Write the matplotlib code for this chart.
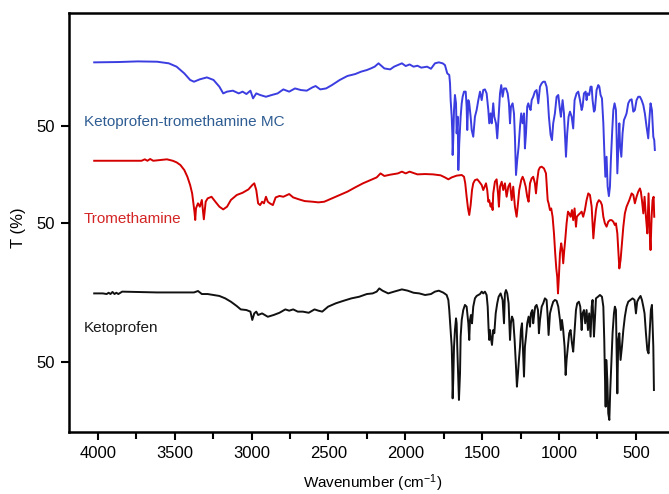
"""Stacked FTIR transmittance spectra: ketoprofen, tromethamine and their MC."""

import matplotlib

matplotlib.use("Agg")
import matplotlib.pyplot as plt
from matplotlib.ticker import MultipleLocator

plt.rcParams["font.family"] = ["Liberation Sans", "DejaVu Sans"]
plt.rcParams["mathtext.fontset"] = "custom"
plt.rcParams["mathtext.rm"] = "Liberation Sans"
plt.rcParams["mathtext.default"] = "regular"

# ---- data (wavenumber in cm-1, T in %) ----
MC_WN = [
    4023, 3866, 3740, 3614, 3538, 3487, 3437, 3399, 3374, 3336, 3290, 3247, 3209, 3184, 3159,
    3121, 3083, 3058, 3033, 3007, 2990, 2969, 2944, 2906, 2868, 2830, 2793, 2755, 2717, 2679,
    2641, 2603, 2583, 2553, 2515, 2477, 2426, 2376, 2325, 2287, 2250, 2224, 2199, 2174, 2161,
    2136, 2098, 2073, 2048, 2022, 1997, 1972, 1946, 1921, 1896, 1858, 1833, 1807, 1782, 1757,
    1742, 1727, 1714, 1709, 1705, 1698, 1694, 1692, 1688, 1683, 1677, 1670, 1666, 1659, 1655,
    1649, 1640, 1633, 1627, 1618, 1607, 1601, 1597, 1590, 1584, 1575, 1568, 1558, 1547, 1536,
    1525, 1514, 1503, 1493, 1482, 1471, 1460, 1454, 1445, 1438, 1428, 1421, 1410, 1402, 1393,
    1384, 1376, 1367, 1358, 1345, 1334, 1326, 1319, 1313, 1302, 1293, 1287, 1280, 1272, 1263,
    1254, 1246, 1237, 1228, 1222, 1215, 1207, 1200, 1194, 1185, 1178, 1168, 1157, 1146, 1135,
    1124, 1113, 1103, 1092, 1081, 1074, 1066, 1055, 1046, 1038, 1027, 1016, 1005, 994, 988,
    977, 968, 962, 955, 947, 938, 929, 918, 908, 899, 886, 875, 864, 853, 847,
    838, 827, 821, 814, 804, 795, 788, 782, 773, 767, 756, 745, 738, 730, 721,
    712, 706, 699, 691, 684, 676, 669, 663, 654, 647, 639, 630, 626, 621, 615,
    608, 604, 595, 587, 578, 569, 561, 550, 539, 528, 517, 507, 496, 485, 474,
    463, 452, 442, 431, 420, 413, 405, 396, 387, 381, 377,
]
MC_T = [
    89.8, 90.0, 90.4, 90.2, 89.2, 87.1, 82.9, 78.8, 77.7, 79.2, 80.4, 78.8, 74.6, 70.4, 71.5,
    72.1, 70.4, 71.5, 70.0, 72.1, 67.3, 70.4, 69.4, 68.3, 69.4, 70.4, 72.9, 71.5, 73.5, 72.5,
    72.1, 74.2, 75.0, 72.9, 73.5, 75.6, 78.8, 81.3, 82.5, 84.0, 85.0, 86.0, 87.1, 89.2, 88.1,
    86.0, 85.4, 87.1, 88.1, 89.2, 87.5, 88.5, 87.1, 87.7, 86.5, 87.1, 85.8, 89.2, 89.8, 89.2,
    88.1, 82.9, 81.9, 76.7, 66.2, 55.8, 45.4, 31.9, 41.2, 60.0, 69.4, 64.2, 45.4, 55.8, 22.5,
    39.2, 55.8, 64.2, 68.3, 71.5, 71.5, 62.1, 47.5, 66.2, 64.2, 55.8, 47.5, 43.3, 55.8, 60.0,
    66.2, 71.5, 66.2, 72.5, 72.9, 70.4, 60.0, 51.7, 57.9, 51.7, 64.2, 55.8, 51.7, 42.3, 55.8,
    70.4, 75.6, 68.3, 73.5, 73.5, 70.4, 64.2, 51.7, 62.1, 64.2, 57.9, 43.3, 19.4, 28.7, 37.1,
    49.6, 57.9, 51.7, 57.9, 36.0, 45.4, 62.1, 64.2, 62.1, 60.0, 66.2, 68.3, 71.5, 72.5, 64.2,
    74.6, 76.7, 77.7, 77.7, 74.6, 68.3, 55.8, 44.4, 41.2, 51.7, 57.9, 68.3, 69.4, 60.0, 55.8,
    66.2, 57.9, 45.4, 30.8, 45.4, 55.8, 59.0, 55.8, 48.5, 66.2, 70.4, 71.5, 66.2, 60.0, 62.1,
    70.4, 71.5, 66.2, 70.4, 69.4, 74.6, 74.6, 66.2, 59.0, 60.0, 72.5, 75.6, 74.6, 69.4, 67.3,
    51.7, 35.0, 18.3, 30.8, 12.1, 6.2, 12.1, 28.7, 47.5, 60.0, 64.2, 60.0, 45.4, 20.4, 35.0,
    51.7, 39.2, 30.8, 45.4, 53.7, 55.8, 57.9, 64.2, 66.2, 66.7, 59.0, 60.0, 66.2, 68.3, 68.3,
    66.2, 63.1, 57.9, 49.6, 42.3, 53.7, 64.2, 60.0, 43.3, 41.2, 35.0,
]

TROM_WN = [
    4023, 3866, 3715, 3694, 3677, 3659, 3639, 3588, 3550, 3512, 3487, 3462, 3437, 3417, 3399,
    3386, 3379, 3371, 3366, 3361, 3348, 3336, 3323, 3310, 3298, 3285, 3260, 3235, 3209, 3184,
    3159, 3134, 3096, 3058, 3020, 2995, 2982, 2969, 2957, 2944, 2931, 2919, 2906, 2894, 2881,
    2861, 2843, 2818, 2793, 2755, 2729, 2692, 2654, 2603, 2565, 2527, 2477, 2426, 2376, 2325,
    2275, 2224, 2186, 2161, 2136, 2098, 2048, 2022, 1997, 1972, 1921, 1871, 1820, 1770,
    1742, 1720, 1698, 1666, 1633, 1618, 1610, 1601, 1592, 1584, 1575, 1566, 1558, 1547, 1532,
    1519, 1503, 1493, 1484, 1475, 1467, 1460, 1454, 1445, 1438, 1432, 1428, 1417, 1406, 1397,
    1391, 1384, 1373, 1363, 1352, 1341, 1330, 1319, 1308, 1298, 1287, 1276, 1267, 1259, 1246,
    1237, 1228, 1217, 1207, 1198, 1189, 1178, 1168, 1157, 1150, 1142, 1133, 1124, 1113, 1098,
    1085, 1081, 1074, 1068, 1059, 1051, 1042, 1033, 1025, 1018, 1012, 1007, 1001, 994, 986,
    979, 973, 966, 960, 951, 942, 934, 925, 916, 908, 899, 890, 884, 875, 864,
    853, 843, 832, 821, 810, 799, 788, 777, 769, 760, 752, 741, 730, 721, 712,
    702, 691, 680, 669, 658, 647, 637, 630, 621, 615, 608, 600, 591, 582, 572,
    561, 543, 528, 517, 507, 496, 485, 474, 468, 461, 452, 444, 435, 426, 418,
    411, 405, 398, 392, 385, 381,
]
TROM_T = [
    89.1, 89.1, 89.1, 90.0, 89.1, 90.2, 89.1, 89.6, 90.0, 89.1, 88.1, 86.4, 83.3, 79.1, 73.9,
    68.7, 63.5, 57.3, 52.1, 59.4, 62.5, 60.4, 64.6, 52.5, 63.5, 65.6, 66.6, 63.5, 60.4, 58.7,
    60.4, 64.6, 67.7, 69.1, 71.2, 73.9, 75.0, 70.8, 62.5, 61.4, 63.5, 62.5, 66.6, 63.5, 62.5,
    61.4, 66.2, 67.1, 66.6, 68.3, 66.2, 65.0, 63.9, 63.5, 63.1, 63.5, 65.6, 67.7, 69.8, 72.5,
    75.0, 77.1, 78.7, 81.2, 79.6, 80.4, 81.2, 82.3, 81.2, 82.3, 80.6, 80.8, 80.6, 80.0,
    78.7, 77.5, 78.7, 79.8, 80.2, 79.1, 75.0, 66.6, 59.3, 55.2, 61.4, 70.8, 75.0, 77.0, 77.5,
    76.0, 73.9, 70.8, 72.9, 75.0, 70.8, 63.5, 64.5, 60.4, 62.5, 58.3, 68.7, 76.0, 77.5, 68.7,
    60.4, 72.9, 76.0, 70.8, 75.0, 66.6, 72.9, 75.0, 64.5, 72.9, 60.4, 54.1, 62.5, 70.8, 77.0,
    79.1, 77.0, 72.9, 66.6, 63.5, 75.0, 78.1, 79.1, 75.0, 68.7, 77.0, 83.3, 85.0, 85.4, 84.3,
    81.2, 75.0, 64.5, 62.5, 58.3, 59.3, 54.1, 43.7, 31.2, 21.8, 16.6, 6.2, 16.6, 31.2, 37.5,
    33.3, 25.0, 33.3, 39.5, 50.0, 57.3, 56.2, 54.1, 58.3, 52.0, 59.3, 47.9, 54.1, 55.2, 56.2,
    57.3, 54.1, 58.3, 64.5, 68.7, 67.7, 60.4, 40.6, 50.0, 58.3, 62.5, 64.5, 63.5, 61.4, 54.1,
    50.0, 47.9, 51.0, 52.0, 52.0, 51.0, 48.9, 50.0, 43.7, 33.3, 21.8, 27.0, 37.5, 47.9, 56.2,
    60.4, 64.5, 68.7, 67.7, 62.5, 66.6, 69.8, 71.8, 69.8, 64.5, 56.2, 66.6, 54.1, 43.7, 68.7,
    45.8, 33.3, 54.1, 64.5, 66.6, 54.1,
]

KETO_WN = [
    4023, 3967, 3942, 3929, 3917, 3904, 3891, 3879, 3866, 3841, 3740, 3614, 3487, 3374, 3348,
    3323, 3285, 3247, 3209, 3171, 3134, 3096, 3070, 3033, 3007, 2995, 2982, 2969, 2957, 2931,
    2894, 2856, 2818, 2780, 2755, 2729, 2699, 2666, 2628, 2590, 2565, 2540, 2502, 2452, 2401,
    2350, 2300, 2250, 2212, 2186, 2169, 2148, 2111, 2073, 2022, 1984, 1946, 1909, 1871, 1833,
    1807, 1782,
    1753, 1731, 1720, 1714, 1705, 1698, 1694, 1692, 1688, 1683, 1677, 1670, 1666, 1662, 1655,
    1651, 1644, 1640, 1633, 1623, 1612, 1601, 1590, 1584, 1579, 1573, 1566, 1558, 1547, 1536,
    1514, 1503, 1493, 1482, 1471, 1464, 1458, 1454, 1449, 1443, 1436, 1428, 1421, 1412, 1402,
    1393, 1380, 1367, 1358, 1352, 1345, 1337, 1328, 1319, 1313, 1306, 1298, 1289, 1280, 1274,
    1267, 1261, 1254, 1248, 1241, 1235, 1228, 1222, 1215, 1207, 1198, 1189, 1183, 1174, 1168,
    1161, 1155, 1146, 1137, 1131, 1124, 1113, 1103, 1092, 1081, 1074, 1068, 1059, 1048, 1038,
    1027, 1016, 1005, 994, 988, 981, 973, 964, 957, 951, 940, 934, 925, 916, 908,
    899, 890, 882, 871, 862, 853, 847, 838, 830, 821, 812, 804, 795, 788, 782,
    773, 767, 760, 747, 734, 721, 712, 706, 702, 697, 693, 686, 680, 673, 667,
    660, 652, 643, 637, 630, 626, 621, 615, 608, 600, 591, 582, 572, 561, 550,
    535, 522, 509, 500, 492, 481, 470, 461, 452, 444, 435, 426, 418, 409, 403,
    396, 387, 383,
]
KETO_T = [
    92.7, 92.7, 92.3, 93.1, 92.3, 93.6, 92.3, 93.1, 92.3, 93.8, 93.6, 93.3, 93.3, 93.3, 94.2,
    92.3, 92.3, 91.7, 91.1, 89.6, 87.5, 84.8, 82.7, 82.3, 81.3, 76.1, 80.2, 81.3, 79.2, 80.2,
    78.1, 79.2, 80.6, 82.7, 81.9, 82.7, 81.3, 81.3, 80.6, 82.7, 81.9, 81.3, 84.4, 86.5, 88.1,
    89.6, 90.6, 92.3, 92.7, 93.8, 95.8, 94.4, 92.7, 93.8, 95.2, 94.4, 93.1, 92.7, 91.7, 92.3,
    93.8, 94.4,
    93.2, 91.7, 88.6, 82.3, 69.8, 59.4, 42.8, 27.1, 38.6, 59.4, 69.8, 77.1, 74.0, 59.4, 38.6,
    26.1, 42.8, 65.7, 76.1, 82.3, 85.5, 84.4, 74.0, 63.6, 76.1, 79.2, 74.0, 84.4, 89.6, 91.1,
    92.3, 93.8, 92.7, 93.8, 91.7, 84.4, 69.8, 63.6, 69.8, 64.6, 60.5, 69.8, 67.8, 80.2, 86.5,
    90.6, 92.7, 88.6, 74.0, 92.7, 94.8, 92.7, 86.5, 63.6, 74.0, 78.2, 76.1, 63.6, 46.9, 34.4,
    42.8, 51.1, 59.4, 69.8, 74.0, 59.4, 40.7, 59.4, 65.7, 74.0, 78.2, 71.9, 80.2, 82.3, 74.0,
    80.2, 84.4, 85.5, 82.3, 67.8, 76.1, 84.4, 86.5, 89.6, 88.6, 78.2, 66.7, 80.2, 84.4, 87.5,
    88.6, 88.1, 84.4, 76.1, 69.8, 76.1, 69.8, 59.4, 41.7, 51.1, 61.5, 67.8, 69.8, 61.5, 56.3,
    69.8, 82.3, 86.5, 87.5, 84.4, 69.8, 80.2, 82.3, 74.0, 82.3, 69.8, 80.2, 65.7, 84.4, 88.6,
    65.7, 76.1, 89.6, 90.6, 91.7, 90.6, 84.4, 63.6, 42.8, 21.9, 51.1, 38.6, 17.7, 13.6, 32.3,
    49.0, 67.8, 80.2, 84.4, 82.3, 59.4, 30.2, 63.6, 67.8, 51.1, 59.4, 69.8, 78.2, 84.4, 87.5,
    88.6, 89.6, 88.6, 80.2, 87.5, 89.6, 91.1, 88.6, 84.4, 80.2, 67.8, 57.3, 55.2, 71.9, 82.3,
    85.5, 59.4, 32.3,
]

NAMES = ["Ketoprofen-tromethamine MC", "Tromethamine", "Ketoprofen"]
REF_T = 50  # each trace carries its own "50" tick


def main() -> None:
    fig = plt.figure(figsize=(6.69, 4.94), dpi=100)
    ax = fig.add_axes([0.1031, 0.1261, 0.8969, 0.8482])

    # vertical stacking offsets (in T units) and styling per trace
    traces = [
        (MC_WN, MC_T, 141.06, "#3b3de0", "#2f5d93", 193.8),
        (TROM_WN, TROM_T, 80.25, "#d40000", "#d42525", 132.9),
        (KETO_WN, KETO_T, -6.25, "#111111", "#1a1a1a", 64.8),
    ]
    yticks = []
    for name, (wn, t, off, lc, tc, ylab) in zip(NAMES, traces):
        ax.plot(wn, [v + off for v in t], color=lc, lw=1.4)
        ax.text(4090, ylab, name, color=tc, fontsize=11, ha="left", va="center")
        yticks.append(REF_T + off)

    ax.set_xlim(4187, 285)
    ax.set_ylim(0, 261.9)

    ax.xaxis.set_major_locator(MultipleLocator(500))
    ax.xaxis.set_minor_locator(MultipleLocator(250))
    ax.set_yticks(yticks)
    ax.set_yticklabels([str(REF_T)] * len(yticks))

    for side in ("left", "top", "bottom"):
        ax.spines[side].set_linewidth(1.8)
    ax.spines["right"].set_visible(False)

    ax.tick_params(axis="both", which="major", direction="out", length=6, width=1.5,
                   labelsize=12, pad=4)
    ax.tick_params(axis="x", which="minor", direction="out", length=5, width=1.5)

    fig.text(0.557, 1 - 483 / 494, "Wavenumber (cm$^{-1}$)", fontsize=11,
             ha="center", va="center")
    fig.text(0.027, 0.54, "T (%)", rotation=90, fontsize=12, ha="center", va="center")

    fig.savefig("out.png", dpi=100)


if __name__ == "__main__":
    main()
